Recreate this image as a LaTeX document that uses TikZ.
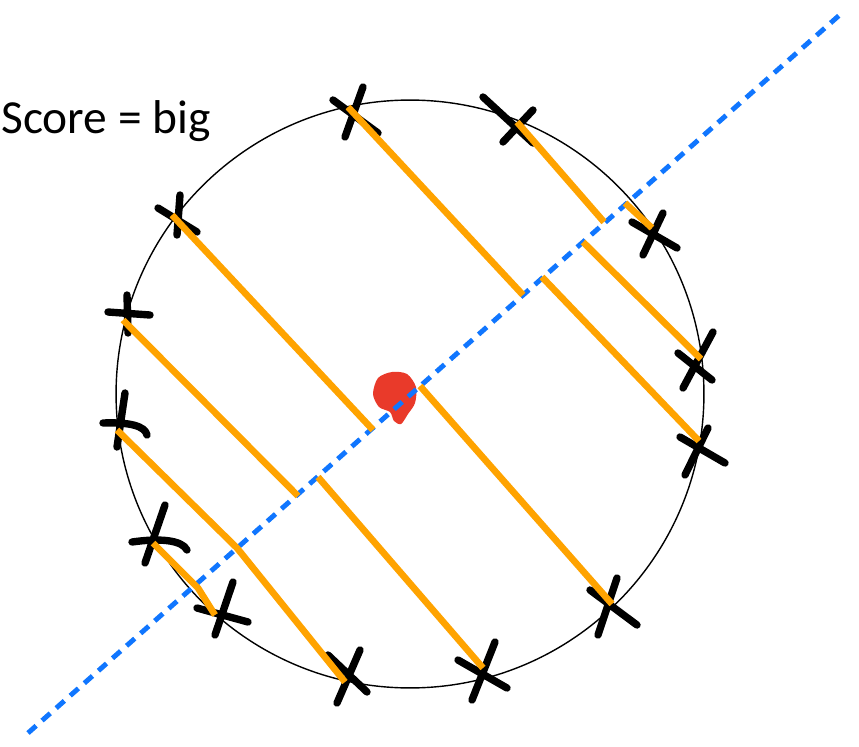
\documentclass[tikz,border=0pt]{standalone}
\usepackage{fontspec}
\setmainfont{Carlito}
\usetikzlibrary{calc}
\definecolor{LineBlue}{RGB}{16,118,255}
\definecolor{ProjOrange}{RGB}{255,163,0}
\definecolor{BlobRed}{RGB}{233,58,42}

\begin{document}
\begin{tikzpicture}[x=0.02cm,y=-0.02cm,
		proj/.style={ProjOrange,line width=3.8pt},
		cross/.style={line width=4.2pt,line cap=round,line join=round}]
		\useasboundingbox (0,0) rectangle (859,747);
		
		\coordinate (ctr) at (410,394);
		\coordinate (b1) at (28,733);
		\coordinate (b2) at (843,12);
		
		% points on the circle
		\coordinate (p1) at (348,107);
		\coordinate (p2) at (517,122);
		\coordinate (p3) at (652,228);
		\coordinate (p4) at (701,359);
		\coordinate (p5) at (699,441);
		\coordinate (p6) at (172,215);
		\coordinate (p7) at (123,320);
		\coordinate (p8) at (117,430);
		\coordinate (p9) at (153,543);
		\coordinate (p10) at (215,615);
		\coordinate (p11) at (345,682);
		\coordinate (p12) at (483,668);
		\coordinate (p13) at (612,604);
		
		% feet on the line
		\coordinate (f1) at (523,295);
		\coordinate (f2) at (604,222);
		\coordinate (f3) at (625,203);
		\coordinate (f4) at (583,242);
		\coordinate (f5) at (542,277);
		\coordinate (f6) at (373,430);
		\coordinate (f7) at (298,496);
		\coordinate (f8) at (237,548);
		\coordinate (f9) at (198,588);
		\coordinate (f12) at (318,477);
		\coordinate (f13) at (420,386);
		
		% label
		\node[anchor=base west,inner sep=0pt,font=\fontsize{27}{32}\selectfont] (score) at (1,133) {Score = big};
		
		% circle
		\draw[line width=0.8pt] (ctr) circle (5.88cm);
		
		% crosses
		\draw[cross] (363,87) -- (345,137) (333,100) -- (378,133);
		\draw[cross] (483,97) -- (533,143) (533,110) -- (503,142);
		\draw[cross] (632,222) -- (677,248) (663,213) -- (643,255);
		\draw[cross] (713,332) -- (683,388) (678,353) -- (712,380);
		\draw[cross] (708,428) -- (685,475) (680,437) -- (725,463);
		\draw[cross] (180,195) -- (177,235) (158,208) -- (197,232);
		\draw[cross] (108,312) -- (150,315) (127,295) -- (128,333);
		\draw[cross] (103,423) .. controls (130,422) and (145,426) .. (147,435) (125,393) -- (117,447);
		\draw[cross] (165,505) -- (145,563) (132,542) .. controls (160,538) and (182,540) .. (187,550);
		\draw[cross] (233,582) -- (215,635) (197,608) -- (248,622);
		\draw[cross] (360,650) -- (337,703) (328,655) -- (367,692);
		\draw[cross] (495,642) -- (472,700) (458,660) -- (507,688);
		\draw[cross] (617,578) -- (598,635) (590,590) -- (637,625);
		
		% red blob at the centre
		\fill[BlobRed] plot[smooth cycle] coordinates {(378,378) (392,372) (407,374) (416,387) (415,403) (408,414) (401,424) (394,421) (390,412) (379,407) (373,394)};
		
		% blue dashed line
		\draw[LineBlue,line width=2.8pt,dash pattern=on 6.2pt off 4.5pt] (b1) -- (b2);
		
		% projections
		\draw[proj] (p1) -- (f1);
		\draw[proj] (p2) -- (f2);
		\draw[proj] (p3) -- (f3);
		\draw[proj] (p4) -- (f4);
		\draw[proj] (p5) -- (f5);
		\draw[proj] (p6) -- (f6);
		\draw[proj] (p7) -- (f7);
		\draw[proj] (p8) -- (f8) -- (p11);
		\draw[proj] (p9) -- (f9) -- (p10);
		\draw[proj] (p12) -- (f12);
		\draw[proj] (p13) -- (f13);
	\end{tikzpicture}
\end{document}
